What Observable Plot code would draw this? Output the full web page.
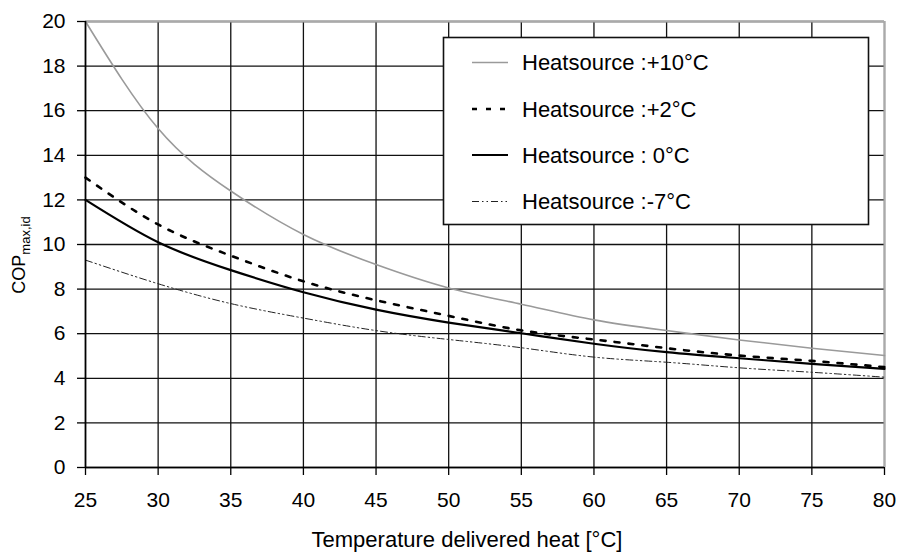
<!DOCTYPE html>
<html><head><meta charset="utf-8">
<script src="https://cdn.jsdelivr.net/npm/d3@7"></script>
<script src="https://cdn.jsdelivr.net/npm/@observablehq/plot@0.6"></script>
<style>body{margin:0;background:#fff;font-family:"Liberation Sans",Arial,sans-serif}</style>
</head><body><div id="chart"></div>
<script>
// Data
const temps = [25, 30, 35, 40, 45, 50, 55, 60, 65, 70, 75, 80];
const plus10 = [20, 15.2, 12.4, 10.45, 9.1, 8.05, 7.32, 6.62, 6.14, 5.72, 5.35, 5.02];
const plus2  = [13, 10.9, 9.5, 8.35, 7.5, 6.8, 6.15, 5.74, 5.35, 5.02, 4.78, 4.5];
const zero   = [12, 10.1, 8.85, 7.86, 7.08, 6.5, 6.02, 5.55, 5.17, 4.9, 4.65, 4.42];
const minus7 = [9.3, 8.24, 7.35, 6.7, 6.14, 5.74, 5.37, 4.95, 4.72, 4.47, 4.27, 4.05];
const xTicks = [25, 30, 35, 40, 45, 50, 55, 60, 65, 70, 75, 80];
const yTicks = [0, 2, 4, 6, 8, 10, 12, 14, 16, 18, 20];
const seriesLabels = ["Heatsource :+10°C", "Heatsource :+2°C", "Heatsource : 0°C", "Heatsource :-7°C"];
const xLabel = "Temperature delivered heat [°C]";
const yLabelMain = "COP";
const yLabelSub = "max,id";

const styles = [
  {stroke: "#9a9a9a", strokeWidth: 1.6, dash: null},
  {stroke: "#000", strokeWidth: 2.6, dash: "5,9"},
  {stroke: "#000", strokeWidth: 2.2, dash: null},
  {stroke: "#222", strokeWidth: 1, dash: "7,3,1.5,3,1.5,3"}
];
const seriesValues = [plus10, plus2, zero, minus7];

const lineMarks = seriesValues.map((vals, i) => Plot.line(temps, {
  x: temps, y: vals, curve: "natural",
  stroke: styles[i].stroke, strokeWidth: styles[i].strokeWidth,
  strokeDasharray: styles[i].dash || undefined
}));

const chart = Plot.plot({
  width: 899, height: 552,
  marginLeft: 85, marginRight: 15, marginTop: 21, marginBottom: 85,
  style: {fontFamily: '"Liberation Sans", Arial, sans-serif', fontSize: "21px", color: "#000", background: "#fff", overflow: "visible"},
  x: {domain: [25, 80]},
  y: {domain: [0, 20]},
  marks: [
    Plot.gridX(xTicks, {stroke: "#111", strokeOpacity: 1, strokeWidth: 1.3}),
    Plot.gridY(yTicks, {stroke: "#111", strokeOpacity: 1, strokeWidth: 1.3}),
    Plot.ruleY([20], {stroke: "#aaa", strokeWidth: 2}),
    Plot.ruleX([80], {stroke: "#aaa", strokeWidth: 2}),
    ...lineMarks,
    Plot.ruleX([25], {stroke: "#000", strokeWidth: 1.6}),
    Plot.ruleY([0], {stroke: "#000", strokeWidth: 1.6}),
    Plot.axisX(xTicks, {tickSize: 8, tickPadding: 17, fontSize: 21, label: null, strokeWidth: 1.3}),
    Plot.axisY(yTicks, {tickSize: 8, tickPadding: 12, fontSize: 21, label: null, strokeWidth: 1.3})
  ]
});

const svg = d3.select(chart);
// x label
svg.append("text").attr("x", 467).attr("y", 547)
  .attr("text-anchor", "middle").attr("font-size", 22).attr("fill", "#000")
  .text(xLabel);
// y label with subscript
const yl = svg.append("text").attr("transform", "translate(25,255) rotate(-90)")
  .attr("text-anchor", "middle").attr("font-size", 18).attr("fill", "#000");
yl.append("tspan").text(yLabelMain);
yl.append("tspan").attr("font-size", 13).attr("dy", 5).text(yLabelSub);

// legend
const lg = svg.append("g").attr("text-anchor", "start");
lg.append("rect").attr("x", 443.5).attr("y", 37.5).attr("width", 425).attr("height", 187)
  .attr("fill", "#fff").attr("stroke", "#111").attr("stroke-width", 1.6);
const rowY = [62.5, 109, 155, 201.5];
seriesLabels.forEach((lab, i) => {
  const s = styles[i];
  lg.append("line").attr("x1", 472).attr("x2", 508).attr("y1", rowY[i]).attr("y2", rowY[i])
    .attr("stroke", s.stroke).attr("stroke-width", s.strokeWidth)
    .attr("stroke-dasharray", s.dash);
  lg.append("text").attr("x", 522).attr("y", rowY[i]).attr("dy", "0.36em")
    .attr("text-anchor", "start")
    .attr("font-size", 22).attr("fill", "#000").text(lab);
});

document.getElementById("chart").append(chart);
</script>
</body></html>
